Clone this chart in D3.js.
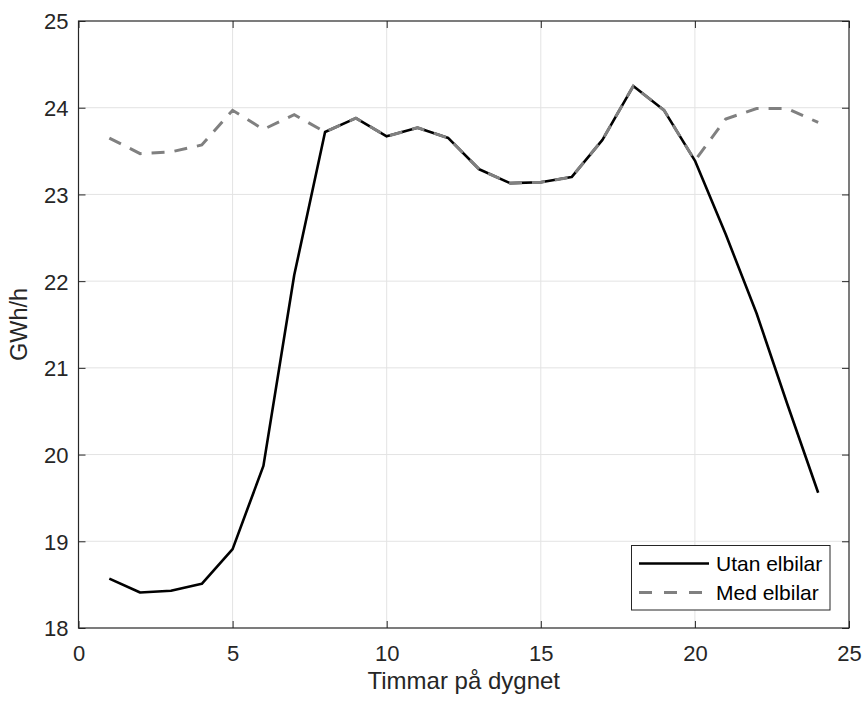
<!DOCTYPE html>
<html><head><meta charset="utf-8">
<script src="https://cdn.jsdelivr.net/npm/d3@7"></script>
<style>body{margin:0;background:#fff}svg{display:block}</style>
</head><body>
<script>
const hours = [1,2,3,4,5,6,7,8,9,10,11,12,13,14,15,16,17,18,19,20,21,22,23,24];
const utanElbilar = [18.57,18.41,18.43,18.51,18.91,19.87,22.07,23.72,23.88,23.67,23.77,23.65,23.29,23.13,23.14,23.20,23.63,24.25,23.97,23.39,22.54,21.63,20.58,19.56];
const medElbilar = [23.65,23.47,23.49,23.57,23.97,23.75,23.92,23.72,23.88,23.67,23.77,23.65,23.29,23.13,23.14,23.20,23.63,24.25,23.97,23.39,23.87,23.99,23.99,23.83];
const xTicks = [0,5,10,15,20,25];
const yTicks = [18,19,20,21,22,23,24,25];
const seriesNames = ["Utan elbilar","Med elbilar"];

const W=864,H=701;
const L=78.5,R=849,T=21,B=628;
const font="Liberation Sans, Arial, Helvetica, sans-serif";
const axisColor="#262626";
const svg=d3.select("body").append("svg").attr("width",W).attr("height",H);
const x=d3.scaleLinear().domain([0,25]).range([L,R]);
const y=d3.scaleLinear().domain([18,25]).range([B,T]);

// grid
const g=svg.append("g");
g.selectAll(".gx").data(xTicks.slice(1,-1)).join("line")
 .attr("x1",d=>x(d)).attr("x2",d=>x(d)).attr("y1",T).attr("y2",B)
 .attr("stroke","#e3e3e3").attr("stroke-width",1);
g.selectAll(".gy").data(yTicks.slice(1,-1)).join("line")
 .attr("y1",d=>y(d)).attr("y2",d=>y(d)).attr("x1",L).attr("x2",R)
 .attr("stroke","#e3e3e3").attr("stroke-width",1);

// lines
const line=d3.line().x((d,i)=>x(hours[i])).y(d=>y(d));
svg.append("path").datum(utanElbilar).attr("d",line).attr("fill","none")
 .attr("stroke","#000").attr("stroke-width",2.6).attr("stroke-linejoin","round");
svg.append("path").datum(medElbilar).attr("d",line).attr("fill","none")
 .attr("stroke","#808080").attr("stroke-width",3).attr("stroke-dasharray","13,10");

// axes
const tl=-7;
svg.append("g").attr("transform",`translate(0,${B})`)
 .call(d3.axisBottom(x).tickValues(xTicks).tickSize(tl).tickPadding(0).tickFormat(d3.format("d")))
 .call(a=>{a.select(".domain").remove();a.selectAll("line").attr("stroke",axisColor);
   a.selectAll("text").attr("y",33).attr("dy",0).attr("fill",axisColor).attr("font-family",font).attr("font-size","22px");});
svg.append("g").attr("transform",`translate(0,${T})`)
 .call(d3.axisTop(x).tickValues(xTicks).tickSize(tl).tickFormat(""))
 .call(a=>{a.select(".domain").remove();a.selectAll("line").attr("stroke",axisColor);});
svg.append("g").attr("transform",`translate(${L},0)`)
 .call(d3.axisLeft(y).tickValues(yTicks).tickSize(tl).tickFormat(d3.format("d")))
 .call(a=>{a.select(".domain").remove();a.selectAll("line").attr("stroke",axisColor);
   a.selectAll("text").attr("x",-10).attr("dy","0.36em").attr("fill",axisColor).attr("font-family",font).attr("font-size","22px");});
svg.append("g").attr("transform",`translate(${R},0)`)
 .call(d3.axisRight(y).tickValues(yTicks).tickSize(tl).tickFormat(""))
 .call(a=>{a.select(".domain").remove();a.selectAll("line").attr("stroke",axisColor);});
svg.append("rect").attr("x",L).attr("y",T).attr("width",R-L).attr("height",B-T)
 .attr("fill","none").attr("stroke",axisColor).attr("stroke-width",1.2);

// labels
svg.append("text").attr("x",(L+R)/2).attr("y",689).attr("text-anchor","middle")
 .attr("font-family",font).attr("font-size","24px").attr("fill",axisColor).text("Timmar på dygnet");
svg.append("text").attr("transform",`translate(27,${(T+B)/2}) rotate(-90)`).attr("text-anchor","middle")
 .attr("font-family",font).attr("font-size","23.5px").attr("fill",axisColor).text("GWh/h");

// legend
const lg=svg.append("g");
lg.append("rect").attr("x",631.5).attr("y",545.5).attr("width",198.5).attr("height",64.5)
 .attr("fill","#fff").attr("stroke",axisColor).attr("stroke-width",1);
const rows=[{y:563.5,c:"#000",w:2.6,dash:null},{y:592.5,c:"#808080",w:3,dash:"13,12"}];
rows.forEach((r,i)=>{
 lg.append("line").attr("x1",639).attr("x2",709).attr("y1",r.y).attr("y2",r.y)
  .attr("stroke",r.c).attr("stroke-width",r.w).attr("stroke-dasharray",r.dash);
 lg.append("text").attr("x",716).attr("y",r.y).attr("dy","0.36em")
  .attr("font-family",font).attr("font-size","21px").attr("fill","#000").text(seriesNames[i]);
});
</script>
</body></html>
